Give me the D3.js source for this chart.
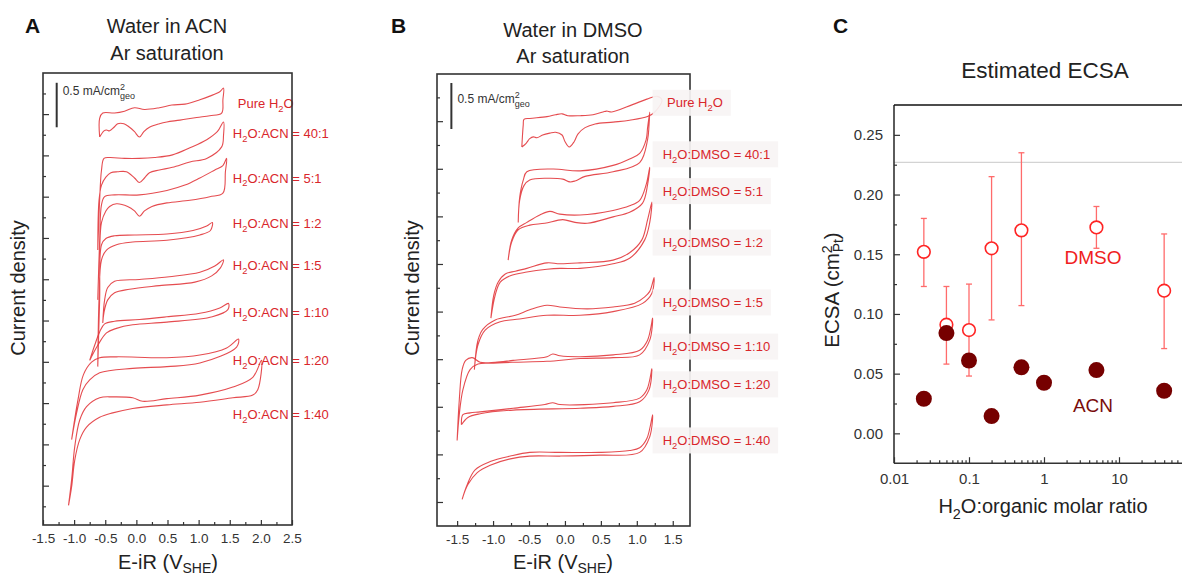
<!DOCTYPE html>
<html>
<head>
<meta charset="utf-8">
<script src="https://cdn.jsdelivr.net/npm/d3@7"></script>
<style>
  html, body { margin: 0; padding: 0; background: #fff; }
  svg { display: block; }
</style>
</head>
<body>
<svg id="fig" width="1182" height="578"></svg>
<script>
// ---------------- Panel A: water in acetonitrile, CVs stacked (E vs SHE in V, j in mA/cm2) ----------------
const acnLabels = ["Pure H2O", "H2O:ACN = 40:1", "H2O:ACN = 5:1", "H2O:ACN = 1:2",
                   "H2O:ACN = 1:5", "H2O:ACN = 1:10", "H2O:ACN = 1:20", "H2O:ACN = 1:40"];
const acnPure = [[-0.59,4.36],[-0.59,4.57],[-0.54,4.63],[-0.35,4.63],[-0.19,4.65],[-0.03,4.69],[0.13,4.67],[0.37,4.69],[0.57,4.72],[0.78,4.73],[1.02,4.78],[1.18,4.82],[1.34,4.87],[1.40,4.91],[1.39,4.78],[1.37,4.63],[1.18,4.60],[0.97,4.58],[0.70,4.55],[0.49,4.53],[0.37,4.51],[0.21,4.47],[0.12,4.42],[0.05,4.36],[-0.03,4.42],[-0.11,4.47],[-0.20,4.51],[-0.30,4.51],[-0.36,4.47],[-0.43,4.43],[-0.48,4.44],[-0.52,4.43],[-0.59,4.36]];
const acn40 = [[-0.62,3.09],[-0.59,3.65],[-0.56,3.99],[-0.52,4.12],[-0.43,4.13],[-0.19,4.12],[0.05,4.12],[0.29,4.13],[0.58,4.16],[0.86,4.24],[1.13,4.33],[1.30,4.42],[1.40,4.53],[1.40,4.38],[1.37,4.25],[1.13,4.12],[0.86,4.08],[0.58,4.02],[0.37,3.99],[0.21,3.96],[0.13,3.90],[0.05,3.85],[-0.03,3.90],[-0.16,3.97],[-0.30,3.97],[-0.41,3.96],[-0.49,3.91],[-0.56,3.82],[-0.60,3.65],[-0.62,3.09]];
const acn5 = [[-0.62,2.53],[-0.59,3.20],[-0.56,3.60],[-0.51,3.69],[-0.35,3.71],[0.05,3.71],[0.49,3.76],[0.78,3.82],[1.02,3.90],[1.26,3.99],[1.39,4.04],[1.45,4.12],[1.43,3.97],[1.39,3.73],[1.18,3.69],[0.86,3.65],[0.49,3.62],[0.25,3.58],[0.13,3.53],[0.05,3.47],[-0.03,3.53],[-0.14,3.58],[-0.32,3.61],[-0.43,3.58],[-0.49,3.53],[-0.56,3.40],[-0.59,3.09],[-0.62,2.53]];
const acn1to2 = [[-0.62,1.78],[-0.59,2.53],[-0.56,3.15],[-0.49,3.22],[-0.35,3.25],[-0.03,3.26],[0.49,3.27],[0.91,3.31],[1.13,3.36],[1.22,3.40],[1.19,3.31],[1.02,3.26],[0.49,3.20],[-0.06,3.18],[-0.32,3.15],[-0.48,3.09],[-0.56,2.98],[-0.60,2.53],[-0.62,1.78]];
const acn1to5 = [[-0.54,2.27],[-0.51,2.53],[-0.46,2.67],[-0.35,2.74],[0.05,2.76],[0.53,2.79],[1.02,2.84],[1.26,2.91],[1.40,2.98],[1.35,2.89],[1.21,2.80],[0.94,2.73],[0.37,2.69],[-0.11,2.65],[-0.35,2.61],[-0.46,2.53],[-0.52,2.39],[-0.54,2.27]];
const acn1to10 = [[-0.75,1.85],[-0.67,2.02],[-0.59,2.17],[-0.51,2.26],[-0.35,2.29],[0.05,2.31],[0.49,2.34],[1.02,2.38],[1.34,2.44],[1.48,2.49],[1.47,2.42],[1.22,2.34],[0.49,2.28],[-0.06,2.25],[-0.32,2.21],[-0.48,2.16],[-0.62,2.02],[-0.75,1.85]];
const acn1to20 = [[-1.04,0.96],[-0.94,1.40],[-0.85,1.69],[-0.72,1.83],[-0.59,1.88],[-0.32,1.89],[0.49,1.88],[1.02,1.91],[1.45,1.99],[1.64,2.09],[1.61,2.00],[1.02,1.82],[0.49,1.78],[-0.06,1.76],[-0.59,1.71],[-0.75,1.63],[-0.86,1.52],[-0.96,1.26],[-1.04,0.96]];
const acn1to40 = [[-1.09,0.22],[-1.04,0.51],[-0.99,0.88],[-0.91,1.18],[-0.80,1.33],[-0.59,1.43],[-0.38,1.44],[-0.06,1.43],[0.10,1.39],[0.49,1.42],[1.02,1.46],[1.55,1.55],[1.87,1.66],[2.01,1.85],[1.95,1.52],[1.87,1.46],[1.55,1.43],[1.02,1.38],[0.49,1.35],[-0.06,1.31],[-0.38,1.26],[-0.59,1.21],[-0.80,1.10],[-0.91,0.96],[-0.99,0.73],[-1.04,0.43],[-1.09,0.22]];
const acnCurves = [acnPure, acn40, acn5, acn1to2, acn1to5, acn1to10, acn1to20, acn1to40];
const acnPotentialTicks = [-1.5, -1.0, -0.5, 0.0, 0.5, 1.0, 1.5, 2.0, 2.5];

// ---------------- Panel B: water in DMSO ----------------
const dmsoLabels = ["Pure H2O", "H2O:DMSO = 40:1", "H2O:DMSO = 5:1", "H2O:DMSO = 1:2",
                    "H2O:DMSO = 1:5", "H2O:DMSO = 1:10", "H2O:DMSO = 1:20", "H2O:DMSO = 1:40"];
const dmsoPure = [[-0.60,4.12],[-0.58,4.36],[-0.57,4.42],[-0.49,4.43],[-0.25,4.45],[-0.13,4.47],[-0.04,4.48],[0.04,4.46],[0.21,4.46],[0.39,4.47],[0.53,4.50],[0.58,4.51],[0.65,4.50],[0.94,4.58],[1.14,4.64],[1.28,4.67],[1.35,4.63],[1.25,4.50],[1.15,4.45],[0.90,4.41],[0.67,4.39],[0.42,4.37],[0.28,4.33],[0.18,4.26],[0.13,4.18],[0.06,4.12],[0.00,4.18],[-0.04,4.25],[-0.13,4.28],[-0.21,4.27],[-0.31,4.25],[-0.39,4.22],[-0.44,4.23],[-0.49,4.21],[-0.54,4.16],[-0.60,4.12]];
const dmso40 = [[-0.65,3.30],[-0.63,3.57],[-0.58,3.76],[-0.53,3.85],[-0.17,3.88],[0.21,3.86],[0.67,3.92],[0.90,3.99],[1.04,4.05],[1.13,4.20],[1.15,4.33],[1.18,4.50],[1.17,4.36],[1.15,4.20],[1.04,3.95],[0.67,3.85],[0.28,3.80],[0.14,3.75],[0.07,3.74],[-0.03,3.77],[-0.25,3.78],[-0.49,3.76],[-0.57,3.70],[-0.63,3.54],[-0.65,3.30]];
const dmso5 = [[-0.79,2.89],[-0.74,3.11],[-0.65,3.24],[-0.53,3.30],[-0.35,3.38],[-0.21,3.42],[-0.07,3.39],[0.21,3.38],[0.67,3.43],[0.90,3.48],[1.04,3.54],[1.13,3.71],[1.18,3.90],[1.15,3.71],[1.08,3.51],[0.90,3.41],[0.67,3.36],[0.31,3.29],[0.14,3.30],[-0.03,3.33],[-0.28,3.29],[-0.49,3.27],[-0.65,3.22],[-0.74,3.09],[-0.79,2.89]];
const dmso1to2 = [[-1.03,2.26],[-0.99,2.51],[-0.93,2.65],[-0.83,2.74],[-0.69,2.77],[-0.53,2.80],[-0.25,2.86],[-0.07,2.85],[0.21,2.86],[0.67,2.89],[0.90,2.97],[1.07,3.11],[1.15,3.33],[1.21,3.52],[1.18,3.30],[1.11,3.11],[0.90,2.91],[0.67,2.85],[0.21,2.80],[-0.07,2.80],[-0.25,2.79],[-0.53,2.76],[-0.76,2.72],[-0.90,2.65],[-0.97,2.51],[-1.03,2.26]];
const dmso1to5 = [[-1.26,1.70],[-1.21,2.02],[-1.14,2.14],[-0.97,2.24],[-0.69,2.29],[-0.49,2.35],[-0.25,2.40],[-0.07,2.38],[0.31,2.36],[0.67,2.38],[0.97,2.42],[1.11,2.49],[1.18,2.55],[1.24,2.70],[1.21,2.53],[1.08,2.42],[0.67,2.33],[0.21,2.29],[-0.25,2.29],[-0.63,2.25],[-0.90,2.22],[-1.11,2.13],[-1.21,1.97],[-1.26,1.70]];
const dmso1to10 = [[-1.50,0.93],[-1.47,1.37],[-1.43,1.70],[-1.38,1.80],[-1.29,1.83],[-1.18,1.78],[-0.97,1.78],[-0.72,1.80],[-0.25,1.84],[-0.17,1.87],[-0.07,1.85],[0.21,1.84],[0.67,1.86],[1.04,1.91],[1.15,2.02],[1.22,2.26],[1.18,2.02],[1.04,1.86],[0.67,1.83],[0.21,1.82],[-0.25,1.79],[-0.72,1.78],[-1.04,1.77],[-1.21,1.76],[-1.32,1.70],[-1.42,1.48],[-1.47,1.21],[-1.50,0.93]];
const dmso1to20 = [[-1.44,1.10],[-1.42,1.21],[-1.32,1.23],[-1.18,1.24],[-0.72,1.28],[-0.28,1.32],[-0.17,1.34],[-0.07,1.32],[0.67,1.34],[1.04,1.39],[1.14,1.48],[1.21,1.71],[1.17,1.48],[1.04,1.35],[0.67,1.30],[0.21,1.28],[-0.72,1.26],[-1.18,1.22],[-1.35,1.18],[-1.44,1.10]];
const dmso1to40 = [[-1.43,0.29],[-1.36,0.45],[-1.25,0.61],[-1.04,0.70],[-0.76,0.76],[-0.49,0.80],[-0.07,0.80],[0.49,0.80],[0.90,0.82],[1.04,0.85],[1.14,0.95],[1.22,1.21],[1.18,0.97],[1.04,0.80],[0.49,0.77],[-0.07,0.76],[-0.49,0.76],[-0.76,0.73],[-1.04,0.66],[-1.22,0.58],[-1.35,0.45],[-1.43,0.29]];
const dmsoCurves = [dmsoPure, dmso40, dmso5, dmso1to2, dmso1to5, dmso1to10, dmso1to20, dmso1to40];
const dmsoPotentialTicks = [-1.5, -1.0, -0.5, 0.0, 0.5, 1.0, 1.5];

// scale bar value shown in both CV panels (mA/cm2 geo)
const scaleBarValue = 0.5;

// ---------------- Panel C: estimated ECSA vs H2O:organic molar ratio ----------------
const dmsoRatio = [0.025, 0.05, 0.1, 0.2, 0.5, 5, 40];
const dmsoEcsa  = [0.152, 0.091, 0.0865, 0.155, 0.170, 0.1725, 0.1195];
const dmsoErrHi = [0.180, 0.123, 0.125, 0.215, 0.235, 0.190, 0.167];
const dmsoErrLo = [0.123, 0.058, 0.048, 0.095, 0.107, 0.155, 0.071];
const acnRatio  = [0.025, 0.05, 0.1, 0.2, 0.5, 1, 5, 40];
const acnEcsa   = [0.029, 0.084, 0.061, 0.0145, 0.0553, 0.0424, 0.053, 0.0357];
const referenceEcsa = 0.227;
const ecsaTicks  = [0.00, 0.05, 0.10, 0.15, 0.20, 0.25];
const ratioTicks = [0.01, 0.1, 1, 10];

// ---------------- drawing ----------------
const FONT = '"Liberation Sans", Arial, Helvetica, sans-serif';
const AXIS = "#333";
const INK = "#222";
const LABEL_RED = "#d9262b";
const CURVE_RED = "#e2383d";

const fig = d3.select("#fig").attr("font-family", FONT);
fig.append("rect").attr("width", 1182).attr("height", 578).attr("fill", "#fff");

// writes a string, turning the "2" of each "H2O" into a subscript
function writeH2O(textSel, str, size) {
  const parts = str.split("H2O");
  parts.forEach((p, i) => {
    if (i > 0) {
      textSel.append("tspan").text("H");
      textSel.append("tspan").attr("font-size", size * 0.72).attr("dy", size * 0.3).text("2");
      textSel.append("tspan").attr("dy", -size * 0.3).text("O");
    }
    if (p) textSel.append("tspan").text(p);
  });
}

function styleAxis(sel, size) {
  sel.select(".domain").remove();
  sel.attr("font-family", FONT).attr("font-size", size);
  sel.selectAll(".tick line").attr("stroke", AXIS).attr("stroke-width", 1.2);
  sel.selectAll(".tick text").attr("fill", "#333");
}

function cvPanel(p) {
  const g = fig.append("g");
  const x = d3.scaleLinear().domain(p.xDomain).range([p.left, p.right]);
  const y = d3.scaleLinear().domain(p.yDomain).range([p.bottom, p.top]);

  const drawFrame = () => g.append("rect")
    .attr("x", p.left).attr("y", p.top)
    .attr("width", p.right - p.left).attr("height", p.bottom - p.top)
    .attr("fill", "none").attr("stroke", AXIS).attr("stroke-width", 1.6);
  if (!p.frameOnTop) drawFrame();

  // potential axis: labelled major ticks, minor ticks between them (pointing inwards)
  const xMinor = p.xTicks.slice(0, -1).map(v => v + 0.25);
  g.append("g").attr("transform", `translate(0,${p.bottom})`)
    .call(d3.axisBottom(x).tickValues(xMinor).tickSize(-3).tickFormat(""))
    .call(s => styleAxis(s, 13.5));
  g.append("g").attr("transform", `translate(0,${p.bottom})`)
    .call(d3.axisBottom(x).tickValues(p.xTicks).tickSize(-5).tickPadding(8).tickFormat(v => v.toFixed(1)))
    .call(s => styleAxis(s, 13.5));

  // current axis: unlabelled, alternating major/minor inward ticks
  const yMajor = p.yTicks.filter((v, i) => i % 2 === p.majorParity);
  const yMinor = p.yTicks.filter((v, i) => i % 2 !== p.majorParity);
  g.append("g").attr("transform", `translate(${p.left},0)`)
    .call(d3.axisLeft(y).tickValues(yMinor).tickSize(-3).tickFormat(""))
    .call(s => styleAxis(s, 12));
  g.append("g").attr("transform", `translate(${p.left},0)`)
    .call(d3.axisLeft(y).tickValues(yMajor).tickSize(-6).tickFormat(""))
    .call(s => styleAxis(s, 12));

  // voltammograms
  const line = d3.line().x(d => x(d[0])).y(d => y(d[1])).curve(d3.curveCatmullRom.alpha(0.5));
  g.selectAll("path.cv").data(p.curves).join("path")
    .attr("class", "cv").attr("d", line)
    .attr("fill", "none").attr("stroke", CURVE_RED).attr("stroke-width", 1.1)
    .attr("stroke-linejoin", "round").attr("opacity", 0.9);

  // curve labels (optionally on pale boxes)
  p.labels.forEach((lab, i) => {
    const lx = x(i === 0 ? p.pureLabelE : p.labelE);
    const ly = y(p.labelJ[i]);
    const t = g.append("text").attr("x", lx).attr("y", ly).attr("dy", "0.35em")
      .attr("font-size", 13).attr("fill", LABEL_RED);
    writeH2O(t, lab, 13);
    if (p.boxed) {
      const bb = t.node().getBBox();
      g.insert("rect", () => t.node())
        .attr("x", x(p.boxE)).attr("y", ly - 13)
        .attr("width", bb.x + bb.width + 8 - x(p.boxE)).attr("height", 26)
        .attr("fill", "#f7f4f4").attr("opacity", 0.92);
    }
  });

  // scale bar
  g.append("line")
    .attr("x1", x(p.bar.E)).attr("x2", x(p.bar.E))
    .attr("y1", y(p.bar.j)).attr("y2", y(p.bar.j - scaleBarValue))
    .attr("stroke", "#333").attr("stroke-width", 2);
  const sb = g.append("text").attr("x", x(p.bar.E) + 6).attr("y", p.bar.textY)
    .attr("font-size", 12).attr("fill", "#333");
  sb.append("tspan").text(scaleBarValue + " mA/cm");
  sb.append("tspan").attr("font-size", 9).attr("dy", -5).text("2");
  sb.append("tspan").attr("font-size", 9).attr("dx", -5).attr("dy", 9).text("geo");

  if (p.frameOnTop) drawFrame();

  // titles
  g.append("text").attr("x", p.letterX).attr("y", 33).attr("font-size", 21)
    .attr("font-weight", "bold").attr("fill", "#111").text(p.letter);
  g.append("text").attr("x", p.titleX).attr("y", p.titleY[0]).attr("text-anchor", "middle")
    .attr("font-size", 20).attr("fill", INK).text(p.title);
  g.append("text").attr("x", p.titleX).attr("y", p.titleY[1]).attr("text-anchor", "middle")
    .attr("font-size", 20).attr("fill", INK).text("Ar saturation");

  // axis titles
  const xt = g.append("text").attr("x", p.xTitleX).attr("y", 569).attr("text-anchor", "middle")
    .attr("font-size", 20).attr("fill", INK);
  xt.append("tspan").text("E-iR (V");
  xt.append("tspan").attr("font-size", 14).attr("dy", 4).text("SHE");
  xt.append("tspan").attr("dy", -4).text(")");
  g.append("text").attr("transform", `translate(${p.yTitleX},288) rotate(-90)`)
    .attr("text-anchor", "middle").attr("dy", "0.35em")
    .attr("font-size", 20).attr("fill", INK).text("Current density");
}

cvPanel({
  left: 43, right: 292, top: 73, bottom: 525,
  xDomain: [-1.5, 2.5], yDomain: [0, 5.08],
  xTicks: acnPotentialTicks,
  yTicks: d3.range(21).map(i => 0.21 + 0.232 * i), majorParity: 1,
  curves: acnCurves, labels: acnLabels,
  pureLabelE: 1.63, labelE: 1.55,
  labelJ: [4.74, 4.40, 3.90, 3.39, 2.92, 2.39, 1.85, 1.24],
  boxed: false, frameOnTop: true,
  bar: { E: -1.28, j: 4.97, textY: 95 },
  letter: "A", letterX: 25, title: "Water in ACN", titleX: 167, titleY: [33, 60],
  xTitleX: 168, yTitleX: 18
});

cvPanel({
  left: 437, right: 690, top: 74, bottom: 526,
  xDomain: [-1.78, 1.74], yDomain: [0, 4.913],
  xTicks: dmsoPotentialTicks,
  yTicks: d3.range(18).map(i => 0.261 + 0.2587 * i), majorParity: 0,
  curves: dmsoCurves, labels: dmsoLabels,
  pureLabelE: 1.42, labelE: 1.36, boxE: 1.22,
  labelJ: [4.60, 4.04, 3.64, 3.08, 2.43, 1.95, 1.54, 0.93],
  boxed: true, frameOnTop: false,
  bar: { E: -1.58, j: 4.815, textY: 103 },
  letter: "B", letterX: 391, title: "Water in DMSO", titleX: 573, titleY: [37, 63],
  xTitleX: 563, yTitleX: 412
});

// ---------------- Panel C ----------------
{
  const g = fig.append("g");
  const left = 894, top = 105, bottom = 463.2;
  const x = d3.scaleLog().domain([0.01, 100]).range([left, 1194]);
  const y = d3.scaleLinear().domain([-0.025, 0.275]).range([bottom, top]);

  // reference level
  g.append("line").attr("x1", left).attr("x2", 1182)
    .attr("y1", y(referenceEcsa)).attr("y2", y(referenceEcsa))
    .attr("stroke", "#c9c9c9").attr("stroke-width", 1);

  // axes
  const xMinor = [];
  ratioTicks.forEach(d => { for (let k = 2; k <= 9; k++) xMinor.push(d * k); });
  g.append("g").attr("transform", `translate(0,${bottom})`)
    .call(d3.axisBottom(x).tickValues(xMinor).tickSize(-3).tickFormat(""))
    .call(s => styleAxis(s, 15));
  g.append("g").attr("transform", `translate(0,${bottom})`)
    .call(d3.axisBottom(x).tickValues(ratioTicks).tickSize(-6).tickPadding(10).tickFormat(v => String(v)))
    .call(s => styleAxis(s, 15));
  const yMinor = ecsaTicks.map(v => v + 0.025).filter(v => v < 0.27);
  g.append("g").attr("transform", `translate(${left},0)`)
    .call(d3.axisLeft(y).tickValues(yMinor).tickSize(-3).tickFormat(""))
    .call(s => styleAxis(s, 15));
  g.append("g").attr("transform", `translate(${left},0)`)
    .call(d3.axisLeft(y).tickValues(ecsaTicks).tickSize(-6).tickPadding(11).tickFormat(d3.format(".2f")))
    .call(s => styleAxis(s, 15));
  g.append("line").attr("x1", left).attr("x2", left).attr("y1", top).attr("y2", bottom)
    .attr("stroke", AXIS).attr("stroke-width", 1.6);
  g.append("line").attr("x1", left).attr("x2", 1182).attr("y1", bottom).attr("y2", bottom)
    .attr("stroke", AXIS).attr("stroke-width", 1.6);
  g.append("line").attr("x1", left).attr("x2", 1182).attr("y1", top).attr("y2", top)
    .attr("stroke", "#111").attr("stroke-width", 1.3);

  // DMSO: error bars and open circles
  const dm = dmsoRatio.map((r, i) => ({ r, v: dmsoEcsa[i], lo: dmsoErrLo[i], hi: dmsoErrHi[i] }));
  const eb = g.append("g").attr("stroke", "#ff6b6b").attr("stroke-width", 1.3);
  dm.forEach(d => {
    eb.append("line").attr("x1", x(d.r)).attr("x2", x(d.r)).attr("y1", y(d.lo)).attr("y2", y(d.hi));
    eb.append("line").attr("x1", x(d.r) - 3).attr("x2", x(d.r) + 3).attr("y1", y(d.lo)).attr("y2", y(d.lo));
    eb.append("line").attr("x1", x(d.r) - 3).attr("x2", x(d.r) + 3).attr("y1", y(d.hi)).attr("y2", y(d.hi));
  });
  g.selectAll("circle.dmso").data(dm).join("circle").attr("class", "dmso")
    .attr("cx", d => x(d.r)).attr("cy", d => y(d.v)).attr("r", 6.3)
    .attr("fill", "#fff").attr("stroke", "#ff2424").attr("stroke-width", 1.6);

  // ACN: filled circles
  g.selectAll("circle.acn").data(acnRatio.map((r, i) => ({ r, v: acnEcsa[i] }))).join("circle")
    .attr("class", "acn").attr("cx", d => x(d.r)).attr("cy", d => y(d.v)).attr("r", 8)
    .attr("fill", "#760000");

  // series names
  g.append("text").attr("x", 1093).attr("y", y(0.1415)).attr("text-anchor", "middle")
    .attr("font-size", 19).attr("fill", "#f02020").text("DMSO");
  g.append("text").attr("x", 1093).attr("y", y(0.0175)).attr("text-anchor", "middle")
    .attr("font-size", 19).attr("fill", "#7a0c0c").text("ACN");

  // titles
  g.append("text").attr("x", 833).attr("y", 33).attr("font-size", 21)
    .attr("font-weight", "bold").attr("fill", "#111").text("C");
  g.append("text").attr("x", 1045).attr("y", 78).attr("text-anchor", "middle")
    .attr("font-size", 22.5).attr("fill", INK).text("Estimated ECSA");
  const xt = g.append("text").attr("x", 1043).attr("y", 513).attr("text-anchor", "middle")
    .attr("font-size", 20).attr("fill", INK);
  writeH2O(xt, "H2O:organic molar ratio", 20);
  const yt = g.append("text").attr("transform", "translate(832,290) rotate(-90)")
    .attr("text-anchor", "middle").attr("dy", "0.35em").attr("font-size", 20.5).attr("fill", INK);
  yt.append("tspan").text("ECSA (cm");
  yt.append("tspan").attr("font-size", 14).attr("dy", -7).text("2");
  yt.append("tspan").attr("font-size", 14).attr("dx", -7).attr("dy", 11).text("Pt");
  yt.append("tspan").attr("dy", -4).text(")");
}
</script>
</body>
</html>
